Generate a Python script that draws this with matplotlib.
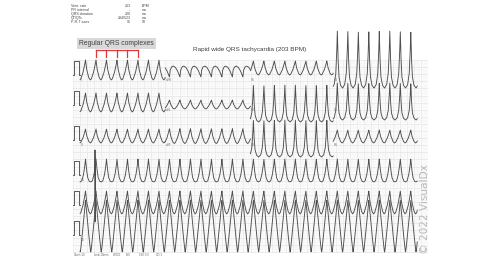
import numpy as np
import matplotlib
matplotlib.use("Agg")
import matplotlib.pyplot as plt

# ---------------- data ----------------
heart_rate_bpm = 203
first_peak_s = 0.648           # time of a marked QRS peak
leads = [["I", "aVR", "V1", "V4"],
         ["II", "aVL", "V2", "V5"],
         ["III", "aVF", "V3", "V6"]]
# peak / trough amplitude (mV) of each lead of the 3x4 section
lead_peak = [[1.06, 0.63, 0.99, 3.10],
             [0.85, 0.35, 1.41, 1.55],
             [0.77, 0.80, 1.41, 0.70]]
lead_trough = [[-0.35, -0.14, 0.00, -0.92],
               [-0.49, -0.28, -1.20, -1.06],
               [-0.21, -0.25, -1.20, -0.21]]
lead_shape = [["saw", "dome", "saw", "tall"],
              ["saw", "saw", "tall", "tall"],
              ["saw", "saw", "tall", "saw"]]
rhythm_leads = ["V1", "II", "V5"]
rhythm_peak = [1.13, 0.99, 2.46]
rhythm_trough = [-0.49, -0.63, -1.20]
rhythm_shape = ["u", "saw", "tri"]
artifact_time_s = 0.62
artifact_top_mV = 1.76
artifact_bottom_mV = -3.30

# beat templates: phase (0..1) -> normalised level (0 trough .. 1 peak)
templates = {
    "saw":  ([0, .10, .30, .45, .55, .75, .90, 1], [1, .55, .12, 0, .05, .35, .7, 1]),
    "dome": ([0, .06, .2, .35, .55, .75, .9, 1], [0, .6, .92, 1, .9, .6, .25, 0]),
    "tall": ([0, .06, .15, .3, .5, .7, .85, .94, 1], [1, .55, .2, .05, 0, .06, .25, .6, 1]),
    "u":    ([0, .08, .2, .35, .5, .65, .8, .92, 1], [1, .6, .2, .03, 0, .05, .3, .65, 1]),
    "tri":  ([0, .1, .25, .45, .5, .55, .75, .9, 1], [1, .78, .45, .06, 0, .06, .45, .78, 1]),
}
info_labels = ["Vent. rate", "PR interval", "QRS duration", "QT/QTc", "P-R-T axes"]
info_values = ["203", "--", "220", "284/523", "91"]
info_units = ["BPM", "ms", "ms", "ms", "10"]
footer = ["Chest:10", "Limb:10mm", "W:100", "F50", "150 0.5", "CID:1"]

# ---------------- layout ----------------
W, H = 500, 261
PX_PER_MM = 1.42
grid_top_px, grid_bot_px = 60, 252
row_base_px = [75, 105, 140, 175, 205, 235]
col_edges_s = [0.20, 2.60, 5.00, 7.33, 9.70]
footer_x_px = [74, 94, 113, 126, 139, 156]
trace_color = "#4e4e4e"

fig = plt.figure(figsize=(W / 100, H / 100), dpi=100)
fig.patch.set_facecolor("white")
ax = fig.add_axes([73 / W, 0, 355 / W, 1])
ax.set_xlim(0, 250)
ax.set_ylim(-H / PX_PER_MM, 0)
ax.axis("off")

gy0 = -grid_top_px / PX_PER_MM
gy1 = -grid_bot_px / PX_PER_MM
for xm in np.arange(0, 251, 1):
    major = xm % 5 == 0
    ax.plot([xm, xm], [gy1, gy0], color="#e4e4e4" if major else "#f5f5f5",
            lw=0.5 if major else 0.3, zorder=0)
for ym in np.arange(gy0, gy1 - 0.01, -1):
    major = round((gy0 - ym)) % 5 == 0
    ax.plot([0, 250], [ym, ym], color="#e4e4e4" if major else "#f5f5f5",
            lw=0.5 if major else 0.3, zorder=0)

rr = 60.0 / heart_rate_bpm
mm_per_s = 25.0
mm_per_mV = 10.0


def wave(t, shape, peak, trough):
    ph = ((t - first_peak_s) / rr) % 1.0
    tx, ty = templates[shape]
    return trough + (peak - trough) * np.interp(ph, tx, ty)


def base_mm(r):
    return -row_base_px[r] / PX_PER_MM


def cal_pulse(r):
    b = base_mm(r)
    xs = np.array([0, 0.8, 0.8, 4.2, 4.2, 5.0])
    ys = np.array([0, 0, 10, 10, 0, 0]) + b
    ax.plot(xs, ys, color=trace_color, lw=0.65)


for r in range(3):
    cal_pulse(r)
    for c in range(4):
        t = np.arange(col_edges_s[c], col_edges_s[c + 1], 0.002)
        v = wave(t, lead_shape[r][c], lead_peak[r][c], lead_trough[r][c])
        ax.plot(t * mm_per_s, base_mm(r) + v * mm_per_mV, color=trace_color, lw=0.65)
        ax.text(col_edges_s[c] * mm_per_s + 0.5, base_mm(r) - 4, leads[r][c],
                fontsize=2.2, color="#666666")

for k in range(3):
    r = 3 + k
    cal_pulse(r)
    t = np.arange(col_edges_s[0], col_edges_s[-1], 0.002)
    v = wave(t, rhythm_shape[k], rhythm_peak[k], rhythm_trough[k])
    if k == 0:
        i = np.argmin(np.abs(t - artifact_time_s))
        v[i] = artifact_top_mV
        v[i + 1] = artifact_bottom_mV
    ax.plot(t * mm_per_s, base_mm(r) + v * mm_per_mV, color=trace_color, lw=0.65)
    ax.text(col_edges_s[0] * mm_per_s + 0.5, base_mm(r) - 4, rhythm_leads[k],
            fontsize=2.2, color="#666666")


def ft(xp, yp, s, **kw):
    fig.text(xp / W, 1 - yp / H, s, **kw)


# info block
for i, (lab, val, unit) in enumerate(zip(info_labels, info_values, info_units)):
    yp = 6 + i * 4
    ft(71, yp, lab, fontsize=2.6, color="#444444", va="center", family="Liberation Sans")
    ft(131, yp, val, fontsize=2.6, color="#444444", va="center", ha="right", family="Liberation Sans")
    ft(142, yp, unit, fontsize=2.6, color="#444444", va="center", family="Liberation Sans")

# annotation box
ft(116.5, 43.5, "Regular QRS complexes", fontsize=4.9, color="#404040", ha="center", va="center",
   family="Liberation Sans",
   bbox=dict(boxstyle="square,pad=0.3", fc="#d9d9d9", ec="none"))

# red bracket over marked beats
bx = [(first_peak_s + n * rr) * mm_per_s for n in range(5)]
by_top = -50 / PX_PER_MM
by_bot = -57 / PX_PER_MM
ax.plot([bx[0], bx[-1]], [by_top, by_top], color="#e0343c", lw=0.9, clip_on=False)
for xb in bx:
    ax.plot([xb, xb], [by_top, by_bot], color="#e0343c", lw=0.9, clip_on=False)

ft(249.5, 49, "Rapid wide QRS tachycardia (203 BPM)", fontsize=4.6, color="#404040",
   ha="center", va="center", family="Liberation Sans")

for xp, s in zip(footer_x_px, footer):
    ft(xp, 255.5, s, fontsize=1.9, color="#666666", va="center")

ft(425, 209, "\u00a9 2022 VisualDx", fontsize=7.6, color="#b8b8b8", rotation=90,
   ha="center", va="center")

fig.savefig("out.png", dpi=100)
